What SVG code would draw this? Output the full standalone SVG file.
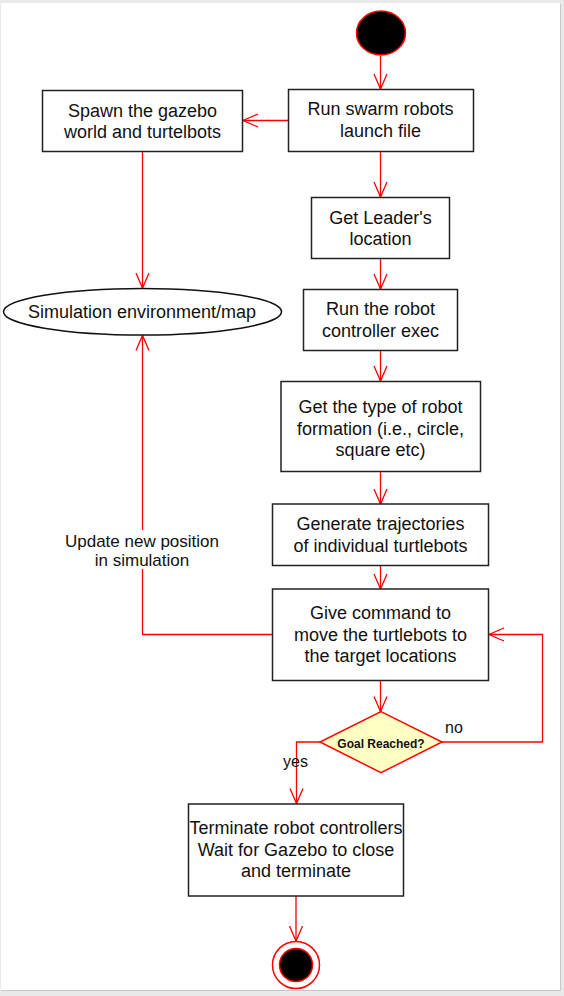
<svg xmlns="http://www.w3.org/2000/svg" width="564" height="996" viewBox="0 0 564 996">
<defs>
<marker id="arr" markerUnits="userSpaceOnUse" markerWidth="20" markerHeight="16" viewBox="-16 -8 18 16" refX="0" refY="0" orient="auto">
<path d="M-15,-6.5 L0,0 L-15,6.5" fill="none" stroke="#ff0000" stroke-width="1.3"/>
</marker>
<style>
.box{fill:#ffffff;stroke:#222222;stroke-width:1.5}
.t{font-family:"Liberation Sans",Arial,sans-serif;font-size:18px;fill:#111111;text-anchor:middle}
.lbl{font-family:"Liberation Sans",Arial,sans-serif;font-size:16px;fill:#111111}
.c{fill:none;stroke:#ff0000;stroke-width:1.3;marker-end:url(#arr)}
</style>
</defs>
<rect x="0" y="0" width="564" height="996" fill="#e9e9e9"/>
<rect x="1" y="4" width="560" height="987" fill="#c8c8c8"/>
<rect x="1" y="3" width="559" height="987" fill="#ffffff"/>

<g id="connectors">
<path class="c" d="M380.5,56 V89"/>
<path class="c" d="M288,120.5 H243"/>
<path class="c" d="M142.5,151 V288"/>
<path class="c" d="M380.5,151 V197"/>
<path class="c" d="M380.5,258.5 V289"/>
<path class="c" d="M380.5,350.5 V381"/>
<path class="c" d="M380.5,471.5 V504"/>
<path class="c" d="M380.5,565.5 V589"/>
<path class="c" d="M380.5,680.5 V711.5"/>
<path class="c" d="M442,742 H542.5 V634.5 H489"/>
<path class="c" d="M320,742 H296.5 V803.5"/>
<path class="c" d="M296,896 V941"/>
<path class="c" d="M272.5,634.5 H142.5 V335.5"/>
<rect x="62" y="530" width="160" height="39" fill="#ffffff"/>
<text class="lbl" style="font-size:17px" text-anchor="middle" x="142" y="547">Update new position</text>
<text class="lbl" style="font-size:17px" text-anchor="middle" x="142" y="566">in simulation</text>
<text class="lbl" x="445" y="733">no</text>
<text class="lbl" x="283" y="767">yes</text>
</g>

<g id="start">
<ellipse cx="381" cy="33" rx="24.5" ry="22" fill="#000000" stroke="#ff0000" stroke-width="1.5"/>
</g>

<g id="run_launch">
<rect class="box" x="288.5" y="89.5" width="185" height="62"/>
<text class="t" x="380.5" y="115">Run swarm robots</text>
<text class="t" x="380.5" y="136.5">launch file</text>
</g>

<g id="spawn">
<rect class="box" x="42.5" y="90.5" width="200" height="61"/>
<text class="t" x="142.5" y="116.5">Spawn the gazebo</text>
<text class="t" x="142.5" y="137.5">world and turtelbots</text>
</g>

<g id="sim_env">
<ellipse cx="142.5" cy="311.7" rx="139" ry="23.3" fill="#ffffff" stroke="#111111" stroke-width="1.5"/>
<text class="t" x="142" y="318">Simulation environment/map</text>
</g>

<g id="leader">
<rect class="box" x="311.5" y="197.5" width="138" height="61"/>
<text class="t" x="380.5" y="224">Get Leader's</text>
<text class="t" x="380.5" y="245">location</text>
</g>

<g id="controller">
<rect class="box" x="303.5" y="289.5" width="154" height="61"/>
<text class="t" x="380.5" y="315">Run the robot</text>
<text class="t" x="380.5" y="336.5">controller exec</text>
</g>

<g id="formation">
<rect class="box" x="281" y="381.5" width="199.5" height="90"/>
<text class="t" x="380.5" y="413">Get the type of robot</text>
<text class="t" x="380.5" y="434.5">formation (i.e., circle,</text>
<text class="t" x="380.5" y="456">square etc)</text>
</g>

<g id="trajectories">
<rect class="box" x="272.5" y="504" width="216" height="61.5"/>
<text class="t" x="380.5" y="530">Generate trajectories</text>
<text class="t" x="380.5" y="552">of individual turtlebots</text>
</g>

<g id="command">
<rect class="box" x="272.5" y="589" width="216" height="91.5"/>
<text class="t" x="380.5" y="619">Give command to</text>
<text class="t" x="380.5" y="641">move the turtlebots to</text>
<text class="t" x="380.5" y="662">the target locations</text>
</g>

<g id="goal">
<polygon points="381,711.7 442,742 381,772.7 320,742" fill="#ffffc4" stroke="#ff0000" stroke-width="1.5"/>
<text x="381" y="747.5" text-anchor="middle" style="font-family:'Liberation Sans',Arial,sans-serif;font-size:12px;font-weight:bold;fill:#111111">Goal Reached?</text>
</g>

<g id="terminate">
<rect class="box" x="188.5" y="804" width="215" height="92"/>
<text class="t" x="296" y="834">Terminate robot controllers</text>
<text class="t" x="296" y="856">Wait for Gazebo to close</text>
<text class="t" x="296" y="877">and terminate</text>
</g>

<g id="end">
<circle cx="296" cy="965" r="23.5" fill="#ffffff" stroke="#ff0000" stroke-width="1.5"/>
<circle cx="296" cy="965" r="16.5" fill="#000000" stroke="#ff0000" stroke-width="1.5"/>
</g>
</svg>
